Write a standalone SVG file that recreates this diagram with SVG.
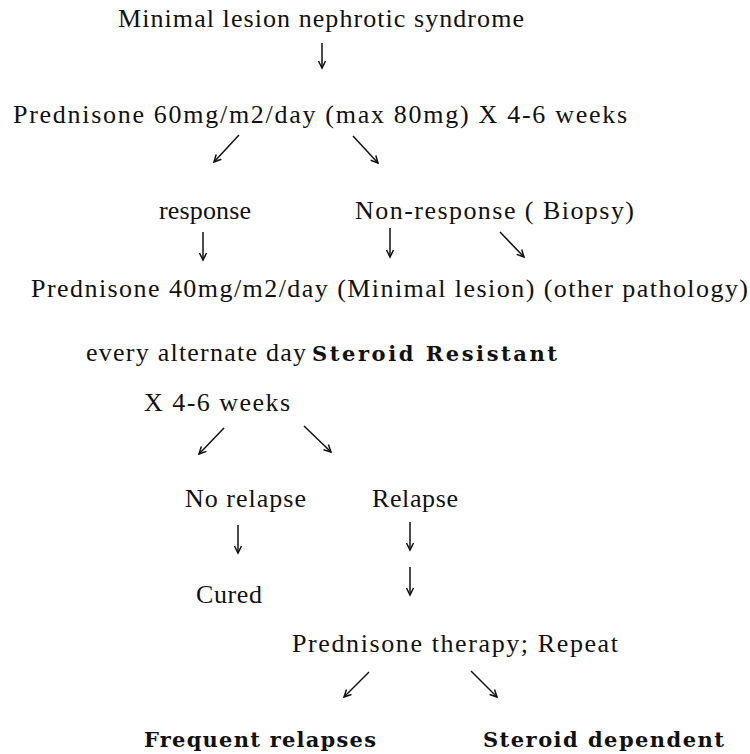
<svg xmlns="http://www.w3.org/2000/svg" width="750" height="754" viewBox="0 0 750 754">
<style>
.t{font-family:"Liberation Serif","Times New Roman",serif;font-size:26px;fill:#111}
.b{font-family:"DejaVu Serif","Liberation Serif",serif;font-size:21px;font-weight:bold;fill:#111}
.a{stroke:#111;stroke-width:1.5;fill:none;marker-end:url(#ah)}
</style>
<defs>
<marker id="ah" markerUnits="userSpaceOnUse" viewBox="-8 -5 10 10" refX="0" refY="0" markerWidth="10" markerHeight="10" orient="auto">
<path d="M-7,-3.5 L0,0 L-7,3.5" stroke="#111" stroke-width="1.5" fill="none"/>
</marker>
</defs>
<rect width="750" height="754" fill="#fff"/>
<g id="connectors">
<line class="a" x1="322" y1="43" x2="322" y2="68"/>
<line class="a" x1="239" y1="135" x2="214" y2="162"/>
<line class="a" x1="353" y1="136" x2="378" y2="163"/>
<line class="a" x1="203" y1="232" x2="203" y2="260"/>
<line class="a" x1="390" y1="228" x2="390" y2="257"/>
<line class="a" x1="500" y1="232" x2="524" y2="257"/>
<line class="a" x1="224" y1="428" x2="199" y2="454"/>
<line class="a" x1="304" y1="426" x2="331" y2="452"/>
<line class="a" x1="238" y1="525" x2="238" y2="553"/>
<line class="a" x1="410" y1="522" x2="410" y2="550"/>
<line class="a" x1="410" y1="567" x2="410" y2="595"/>
<line class="a" x1="369" y1="672" x2="344" y2="697"/>
<line class="a" x1="471" y1="671" x2="497" y2="697"/>
</g>
<g id="n1"><text class="t" x="118" y="27" textLength="406">Minimal lesion nephrotic syndrome</text></g>
<g id="n2"><text class="t" x="13" y="123" textLength="614">Prednisone 60mg/m2/day (max 80mg) X 4-6 weeks</text></g>
<g id="n3"><text class="t" x="159" y="219" textLength="92">response</text></g>
<g id="n4"><text class="t" x="355" y="219" textLength="279">Non-response ( Biopsy)</text></g>
<g id="n5"><text class="t" x="31" y="297" textLength="717">Prednisone 40mg/m2/day (Minimal lesion) (other pathology)</text></g>
<g id="n6"><text class="t" x="86" y="361" textLength="220">every alternate day</text><text class="b" x="312" y="361" textLength="245">Steroid Resistant</text></g>
<g id="n7"><text class="t" x="144" y="411" textLength="146">X 4-6 weeks</text></g>
<g id="n8"><text class="t" x="185" y="507" textLength="121">No relapse</text></g>
<g id="n9"><text class="t" x="372" y="507" textLength="86">Relapse</text></g>
<g id="n10"><text class="t" x="196" y="603" textLength="66">Cured</text></g>
<g id="n11"><text class="t" x="292" y="652" textLength="326">Prednisone therapy; Repeat</text></g>
<g id="n12"><text class="b" x="144" y="747" textLength="232">Frequent relapses</text></g>
<g id="n13"><text class="b" x="483" y="747" textLength="241">Steroid dependent</text></g>
</svg>
